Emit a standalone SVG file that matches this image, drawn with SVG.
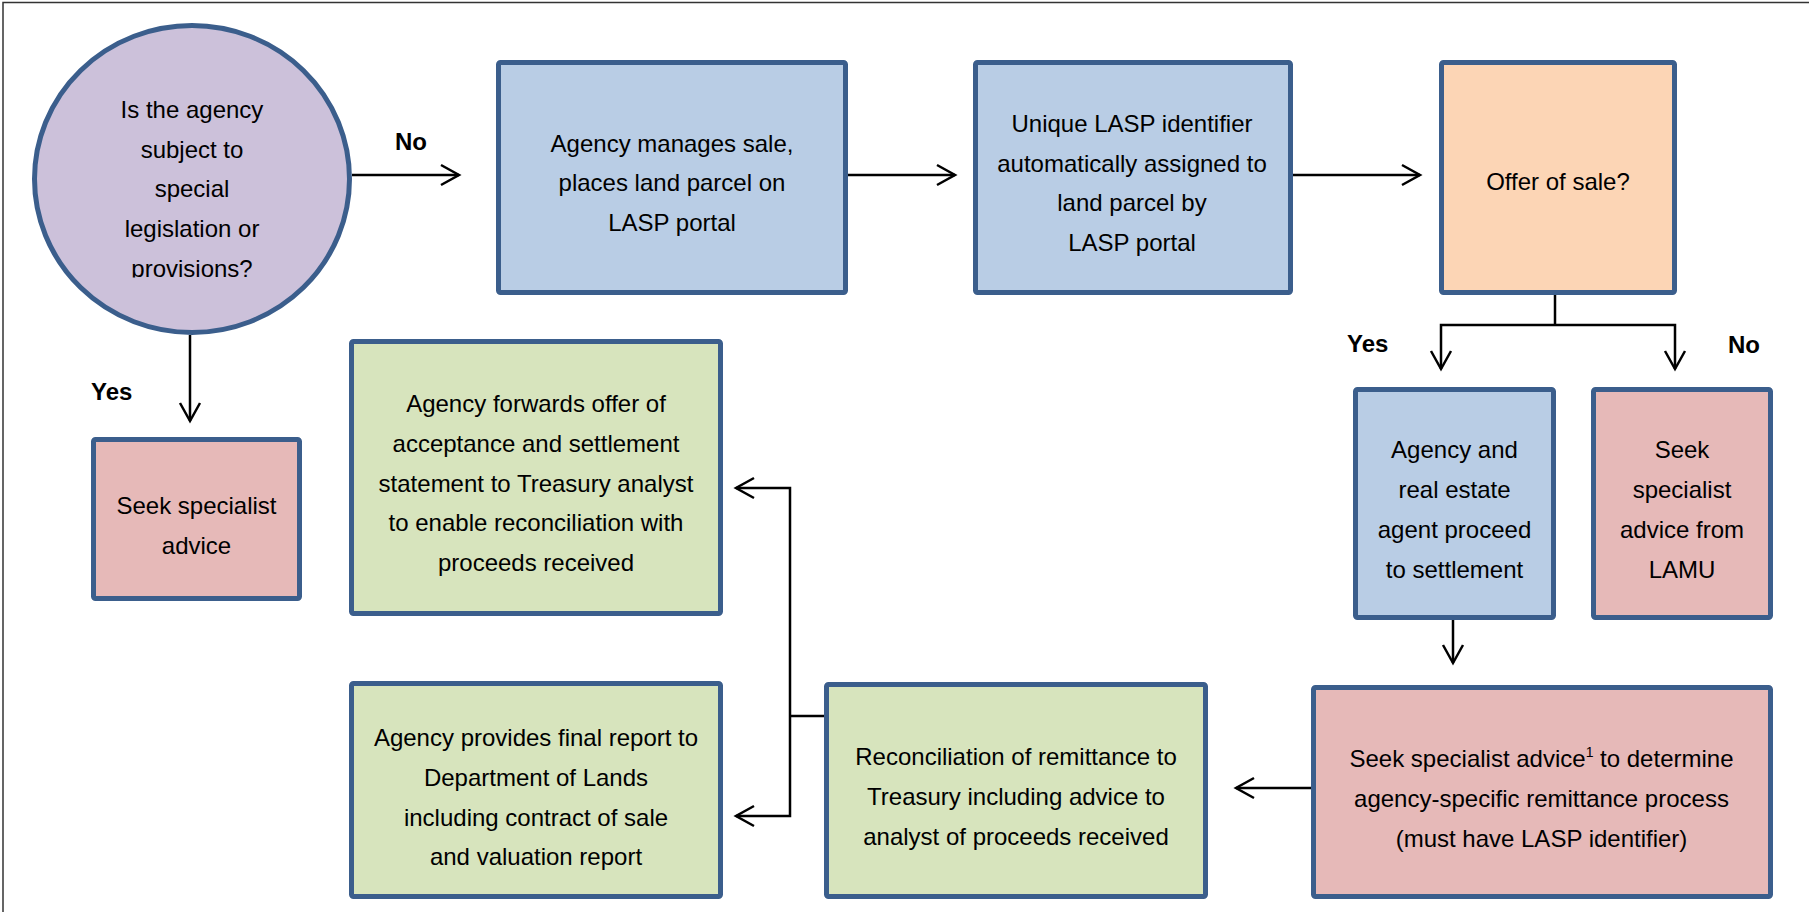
<svg xmlns="http://www.w3.org/2000/svg" width="1809" height="912" viewBox="0 0 1809 912">
  <style>
    .node { stroke: #3B5E8C; stroke-width: 5; }
    .purple { fill: #CCC1DA; }
    .blue { fill: #B9CDE5; }
    .orange { fill: #FCD5B5; }
    .pink { fill: #E6B9B8; }
    .green { fill: #D7E4BD; }
    text { font-family: "Liberation Sans", Arial, sans-serif; font-size: 24px; fill: #000; }
    .t { text-anchor: middle; }
    .lbl { font-weight: bold; }
    .conn { fill: none; stroke: #000; stroke-width: 2.5; }
    .frame { fill: none; stroke: #333; stroke-width: 1.5; }
  </style>
  <defs>
    <marker id="arrow" markerUnits="userSpaceOnUse" markerWidth="24" markerHeight="26" refX="20" refY="12" orient="auto-start-reverse">
      <path d="M2,2 L20,12 L2,22" fill="none" stroke="#000" stroke-width="2.5"/>
    </marker>
    <clipPath id="circleTextClip">
      <rect x="0" y="0" width="400" height="277.5"/>
    </clipPath>
  </defs>

  <rect width="1809" height="912" fill="#fff"/>
  <path class="frame" d="M3,912 V2.5 H1809"/>

  <!-- connectors -->
  <g id="connectors">
    <path class="conn" d="M352,175 H459" marker-end="url(#arrow)"/>
    <path class="conn" d="M848,175 H955" marker-end="url(#arrow)"/>
    <path class="conn" d="M1293,175 H1420" marker-end="url(#arrow)"/>
    <path class="conn" d="M1555,295 V325"/>
    <path class="conn" d="M1441,369 V325 H1675 V369" marker-start="url(#arrow)" marker-end="url(#arrow)"/>
    <path class="conn" d="M190,335 V421" marker-end="url(#arrow)"/>
    <path class="conn" d="M1453,620 V663" marker-end="url(#arrow)"/>
    <path class="conn" d="M1311,788 H1236" marker-end="url(#arrow)"/>
    <path class="conn" d="M824,716 H790"/>
    <path class="conn" d="M736,488 H790 V816 H736" marker-start="url(#arrow)" marker-end="url(#arrow)"/>
  </g>

  <!-- edge labels -->
  <g id="labels">
    <text class="lbl" x="395" y="150">No</text>
    <text class="lbl" x="91" y="400">Yes</text>
    <text class="lbl" x="1347" y="352">Yes</text>
    <text class="lbl" x="1728" y="353">No</text>
  </g>

  <g id="q-special">
    <ellipse class="node purple" cx="192" cy="179" rx="157.5" ry="153.5"/>
    <g clip-path="url(#circleTextClip)">
      <text class="t" x="192" y="118">Is the agency</text>
      <text class="t" x="192" y="158">subject to</text>
      <text class="t" x="192" y="197">special</text>
      <text class="t" x="192" y="237">legislation or</text>
      <text class="t" x="192" y="277">provisions?</text>
    </g>
  </g>

  <g id="manage-sale">
    <rect class="node blue" x="498.5" y="62.5" width="347" height="230" rx="2"/>
    <text class="t" x="672" y="152">Agency manages sale,</text>
    <text class="t" x="672" y="191">places land parcel on</text>
    <text class="t" x="672" y="231">LASP portal</text>
  </g>

  <g id="lasp-id">
    <rect class="node blue" x="975.5" y="62.5" width="315" height="230" rx="2"/>
    <text class="t" x="1132" y="132">Unique LASP identifier</text>
    <text class="t" x="1132" y="172">automatically assigned to</text>
    <text class="t" x="1132" y="211">land parcel by</text>
    <text class="t" x="1132" y="251">LASP portal</text>
  </g>

  <g id="q-offer">
    <rect class="node orange" x="1441.5" y="62.5" width="233" height="230" rx="2"/>
    <text class="t" x="1558" y="190">Offer of sale?</text>
  </g>

  <g id="proceed-settlement">
    <rect class="node blue" x="1355.5" y="389.5" width="198" height="228" rx="2"/>
    <text class="t" x="1454.5" y="458">Agency and</text>
    <text class="t" x="1454.5" y="498">real estate</text>
    <text class="t" x="1454.5" y="538">agent proceed</text>
    <text class="t" x="1454.5" y="578">to settlement</text>
  </g>

  <g id="advice-lamu">
    <rect class="node pink" x="1593.5" y="389.5" width="177" height="228" rx="2"/>
    <text class="t" x="1682" y="458">Seek</text>
    <text class="t" x="1682" y="498">specialist</text>
    <text class="t" x="1682" y="538">advice from</text>
    <text class="t" x="1682" y="578">LAMU</text>
  </g>

  <g id="advice-special">
    <rect class="node pink" x="93.5" y="439.5" width="206" height="159" rx="2"/>
    <text class="t" x="196.5" y="514">Seek specialist</text>
    <text class="t" x="196.5" y="554">advice</text>
  </g>

  <g id="forward-offer">
    <rect class="node green" x="351.5" y="341.5" width="369" height="272" rx="2"/>
    <text class="t" x="536" y="412">Agency forwards offer of</text>
    <text class="t" x="536" y="452">acceptance and settlement</text>
    <text class="t" x="536" y="492">statement to Treasury analyst</text>
    <text class="t" x="536" y="531">to enable reconciliation with</text>
    <text class="t" x="536" y="571">proceeds received</text>
  </g>

  <g id="final-report">
    <rect class="node green" x="351.5" y="683.5" width="369" height="213" rx="2"/>
    <text class="t" x="536" y="746">Agency provides final report to</text>
    <text class="t" x="536" y="786">Department of Lands</text>
    <text class="t" x="536" y="826">including contract of sale</text>
    <text class="t" x="536" y="865">and valuation report</text>
  </g>

  <g id="reconciliation">
    <rect class="node green" x="826.5" y="684.5" width="379" height="212" rx="2"/>
    <text class="t" x="1016" y="765">Reconciliation of remittance to</text>
    <text class="t" x="1016" y="805">Treasury including advice to</text>
    <text class="t" x="1016" y="845">analyst of proceeds received</text>
  </g>

  <g id="remittance-advice">
    <rect class="node pink" x="1313.5" y="687.5" width="457" height="209" rx="2"/>
    <text class="t" x="1541.5" y="767">Seek specialist advice<tspan font-size="14" dy="-10">1</tspan><tspan dy="10"> to determine</tspan></text>
    <text class="t" x="1541.5" y="807">agency-specific remittance process</text>
    <text class="t" x="1541.5" y="847">(must have LASP identifier)</text>
  </g>
</svg>
